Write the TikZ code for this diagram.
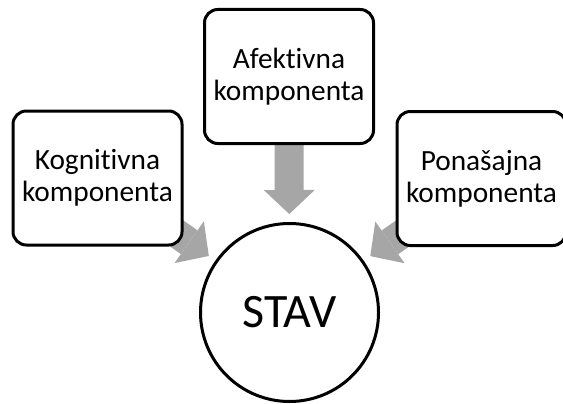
\documentclass[tikz,border=0pt]{standalone}
\usepackage{fontspec}
\setmainfont{Carlito}[Ligatures=NoCommon]
\usepackage{xcolor}
\definecolor{argray}{RGB}{166,166,166}
\usetikzlibrary{arrows.meta,backgrounds}
\tikzset{
  kbox/.style={draw, line width=2.25pt, rounded corners=10pt, fill=white, align=center,
               font=\fontsize{22}{24}\selectfont, minimum width=126.75pt,
               minimum height=100.5pt, inner sep=0pt},
  stavnode/.style={draw, circle, line width=2.25pt, fill=white,
                   font=\fontsize{36}{42}\selectfont, minimum size=133.5pt, inner sep=0pt},
  garrow/.style={draw=argray, line width=21.75pt,
                 -{Triangle[width=38.25pt, length=18pt, line width=0pt]},
                 shorten >=6pt, shorten <=-20pt},
}
\begin{document}
\begin{tikzpicture}[x=0.75pt, y=-0.75pt]
\useasboundingbox (0,0) rectangle (563,403);

% components
\node[kbox] (afek) at (289,76.5) {Afektivna\\komponenta};
\node[kbox] (kog) at (97.5,178) {Kognitivna\\komponenta};
\node[kbox] (pon) at (481.5,178.5) {Ponašajna\\komponenta};

% attitude
\node[stavnode] (stav) at (289.5,312.5) {STAV};

% arrows into the circle
\begin{scope}[on background layer]
\draw[garrow] (afek) -- (stav);
\draw[garrow] (kog) -- (stav);
\draw[garrow] (pon) -- (stav);
\end{scope}

\end{tikzpicture}
\end{document}
